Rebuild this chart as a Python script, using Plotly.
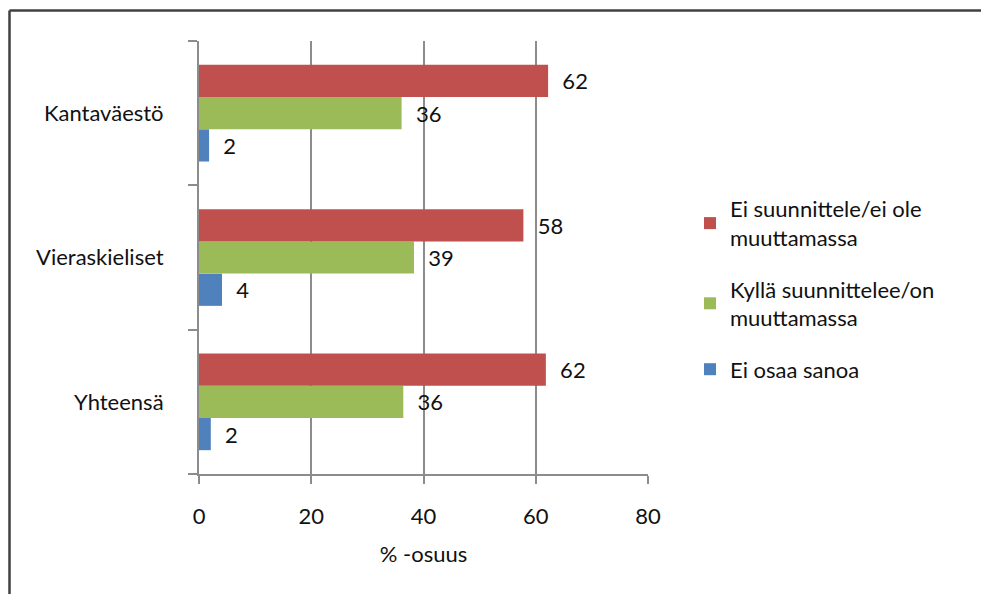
import plotly.graph_objects as go

categories = ["Kantaväestö", "Vieraskieliset", "Yhteensä"]
series_names = ["Ei suunnittele/ei ole<br>muuttamassa",
                "Kyllä suunnittelee/on<br>muuttamassa",
                "Ei osaa sanoa"]
ei_suunnittele = [62.2, 57.8, 61.8]
kylla_suunnittelee = [36.1, 38.3, 36.4]
ei_osaa_sanoa = [1.8, 4.1, 2.1]
labels_ei_suunnittele = [62, 58, 62]
labels_kylla = [36, 39, 36]
labels_ei_osaa = [2, 4, 2]
colors = ["#C0504D", "#9BBB59", "#4F81BD"]
x_ticks = [0, 20, 40, 60, 80]

FONT = "Lato, 'Open Sans', sans-serif"
FS = 22
pad = "\u00a0\u00a0"

series = list(zip(series_names,
                  [ei_suunnittele, kylla_suunnittelee, ei_osaa_sanoa],
                  [labels_ei_suunnittele, labels_kylla, labels_ei_osaa],
                  colors, [1, 2, 3]))

fig = go.Figure()
# add in reverse so that the red series sits on top within each group
for name, vals, labs, col, rank in reversed(series):
    fig.add_trace(go.Bar(
        y=categories, x=vals, name=name, orientation="h",
        marker=dict(color=col, line=dict(width=0)),
        text=[pad + str(v) for v in labs], textposition="outside",
        textfont=dict(family=FONT, size=FS, color="#111111"),
        cliponaxis=False, legendgroup=name, legendrank=rank,
    ))

L, R, T, B = 199, 333, 41, 120
W, H = 981, 594
pw, ph = W - L - R, H - T - B

def px_x(p):
    return (p - L) / pw

def px_y(p):
    return (H - B - p) / ph

fig.update_layout(
    width=W, height=H,
    margin=dict(l=L, r=R, t=T, b=B, pad=0),
    paper_bgcolor="white", plot_bgcolor="white",
    barmode="group", bargap=0.33, bargroupgap=0,
    font=dict(family=FONT, size=FS, color="#111111"),
    showlegend=True,
    legend=dict(x=px_x(690), y=px_y(188), xanchor="left", yanchor="top",
                traceorder="grouped", tracegroupgap=20,
                font=dict(family=FONT, size=FS, color="#111111"),
                itemsizing="constant"),
    xaxis=dict(range=[0, 80], tickvals=x_ticks, showgrid=True,
               gridcolor="#8C8C8C", gridwidth=2, zeroline=False,
               showline=True, linecolor="#8C8C8C", linewidth=2,
               ticks="outside", ticklen=8, tickwidth=2, tickcolor="#8C8C8C",
               ticklabelstandoff=14,
               title=dict(text="% -osuus", standoff=18,
                          font=dict(family=FONT, size=FS))),
    yaxis=dict(categoryorder="array", categoryarray=list(reversed(categories)),
               showline=True, linecolor="#8C8C8C", linewidth=2,
               ticks="outside", ticklen=9, tickwidth=2, tickcolor="#8C8C8C",
               tickson="boundaries", showgrid=False, ticklabelstandoff=29),
    shapes=[
        dict(type="line", xref="paper", yref="paper",
             x0=px_x(9.5), x1=px_x(1000), y0=px_y(10.5), y1=px_y(10.5),
             line=dict(color="#404040", width=2.5)),
        dict(type="line", xref="paper", yref="paper",
             x0=px_x(9.5), x1=px_x(9.5), y0=px_y(10.5), y1=px_y(620),
             line=dict(color="#404040", width=2.5)),
    ],
)

fig.write_html("out.html")
